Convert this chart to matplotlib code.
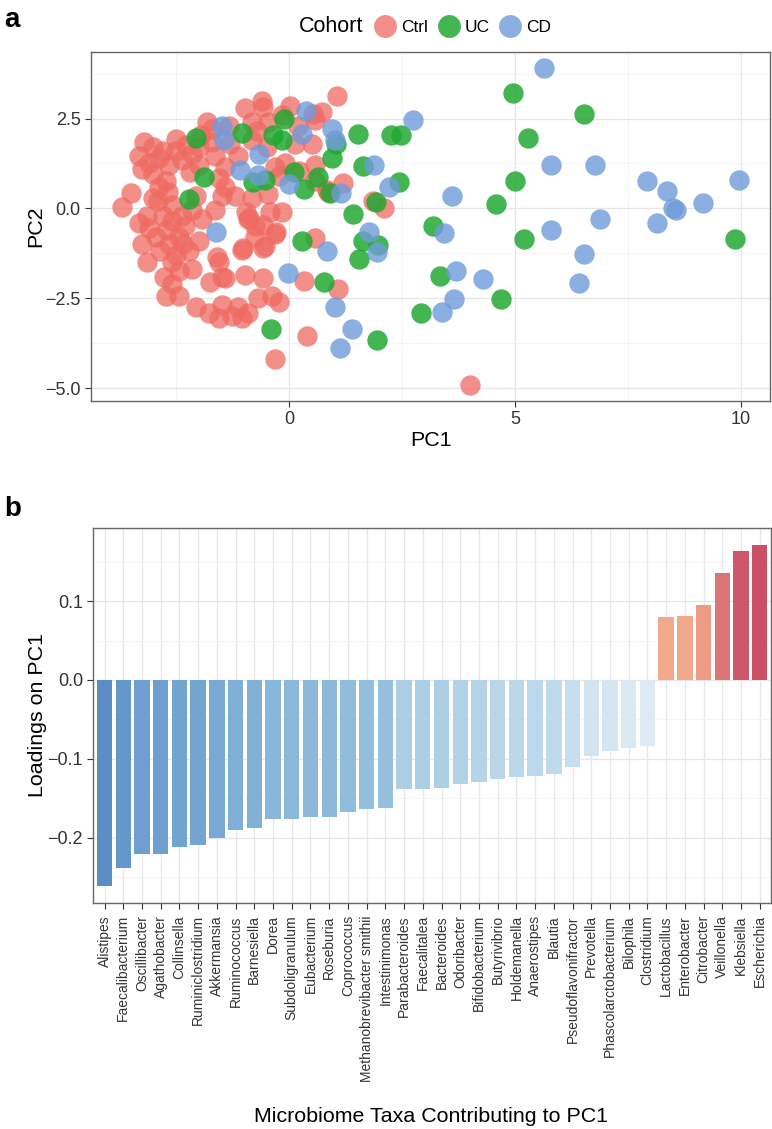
import numpy as np
import matplotlib.pyplot as plt
from matplotlib.colors import LinearSegmentedColormap, Normalize
from matplotlib.lines import Line2D

plt.rcParams['font.family'] = ['Liberation Sans', 'DejaVu Sans']

# --- panel a: PCA scores ---
ctrl_x = [1.05, -0.60, -0.57, -0.97, 0.02, 0.72, 0.54,
          -1.81, -1.34, -0.82, -0.46, 0.57, 0.20,
          -3.21, -2.51, -2.80, -2.29, -1.70, -1.30, -0.82, 0.13, 0.50, -0.49,
          -3.32, -3.10, -3.25, -2.88, -2.66, -2.36, -2.14, -2.00, -1.63, -1.41, -1.12, -0.31, -0.09, 0.21, 0.57,
          -3.02, -2.73, -2.88, -1.56, -1.41, -0.23, 1.20, 0.83, 0.57,
          -3.50, -3.70, -2.69, -1.48, -1.19, -0.82, -0.46, 1.86, 2.11, 0.87,
          -3.32, -3.10, -2.80, -2.58, -2.36, -2.14, -1.92, -1.63, -0.95, -0.90, -0.75, -0.42, -0.16,
          -3.25, -2.95, -2.66, -2.44, -2.22, -2.00, -1.60, -1.04, -0.75, -0.53, -0.31, 0.57,
          -3.14, -2.77, -2.58, -2.14, -2.44, -1.56, -1.41, -0.97, -0.57, 0.32,
          -2.73, -2.44, -2.07, -1.78, -1.48, -1.26, -1.12, -0.90, -0.68, -0.23, -0.38, 1.09, -1.56, -1.04,
          0.39, -0.32, 4.01,
          -2.90, -2.60, -2.70, -2.30, -2.50, -2.20, -2.50, -3.00, -2.00,
          -0.88, -0.57, -0.29, -1.01, -0.57, -1.49, -1.76,
          -3.00, -3.15, -2.85, -2.35, -2.60, -1.95, -1.70, -2.05, -0.70, -0.15]
ctrl_y = [3.14, 3.00, 2.82, 2.78, 2.85, 2.68, 2.62,
          2.40, 2.30, 2.40, 2.40, 2.45, 2.30,
          1.85, 1.94, 1.60, 1.75, 1.85, 1.80, 1.90, 1.80, 1.80, 1.70,
          1.45, 1.25, 1.10, 1.40, 1.20, 1.35, 1.50, 1.20, 1.45, 1.15, 1.45, 1.15, 1.25, 1.05, 1.20,
          0.95, 0.75, 0.60, 0.85, 0.60, 0.90, 0.70, 0.50, 0.75,
          0.42, 0.05, 0.45, 0.35, 0.35, 0.30, 0.40, 0.20, 0.00, 0.45,
          -0.40, -0.55, -0.20, -0.35, -0.20, -0.05, -0.30, -0.05, -0.10, -0.30, -0.50, -0.10, -0.10,
          -1.00, -0.80, -1.00, -0.80, -1.20, -0.90, -1.35, -1.15, -0.80, -1.05, -0.70, -0.83,
          -1.50, -1.90, -1.50, -1.70, -1.75, -1.50, -1.95, -1.85, -1.95, -2.03,
          -2.45, -2.45, -2.75, -2.90, -2.70, -3.00, -2.75, -2.90, -2.50, -2.60, -2.45, -2.24, -3.05, -3.05,
          -3.55, -4.20, -4.92,
          0.20, 0.10, -0.60, -0.50, -1.30, 1.00, 1.60, 1.70, 1.70,
          -0.26, -0.46, -0.65, -1.10, -1.10, -1.92, -2.04,
          0.30, -0.20, -1.20, -1.00, -2.10, 2.05, 2.20, 0.35, 2.15, 2.60]

uc_x = [-2.06, -1.04, -0.11, -0.35, -0.16, 1.04, 0.95, 1.53, 2.26, 2.48,
        1.64, 2.44, -1.89, -2.22, -0.79, -0.54, 0.11, 0.32, 0.65, 0.90,
        1.93, 1.42, 0.28, 1.64, 1.97, 1.54, 0.78, -0.40, 1.95, 2.93,
        4.96, 6.52, 5.28, 5.00, 4.57, 3.19, 5.21, 9.86, 3.33, 4.69]
uc_y = [1.97, 2.10, 2.49, 2.03, 1.89, 1.80, 1.41, 2.08, 2.03, 2.03,
        1.17, 0.74, 0.86, 0.26, 0.74, 0.80, 1.02, 0.53, 0.88, 0.42,
        0.18, -0.16, -0.92, -0.92, -1.02, -1.41, -2.06, -3.35, -3.65, -2.91,
        3.20, 2.63, 1.96, 0.76, 0.13, -0.49, -0.84, -0.84, -1.88, -2.52]

cd_x = [-1.48, -1.45, 0.37, 0.28, 0.95, 1.01, -0.66, -1.08, -0.68, -0.01,
        1.16, 1.87, 2.22, 2.75, -1.61, 1.76, 1.94, 0.84, -0.03, 1.01,
        1.40, 1.12,
        5.65, 5.79, 6.78, 7.91, 8.36, 8.50, 8.56, 9.15, 9.96, 8.14,
        6.87, 5.79, 6.53, 6.42, 3.61, 3.42, 3.70, 4.29, 3.66, 3.39]
cd_y = [2.28, 1.91, 2.70, 2.08, 2.22, 1.89, 1.52, 1.08, 0.92, 0.67,
        0.43, 1.20, 0.60, 2.47, -0.67, -0.67, -1.22, -1.20, -1.80, -2.74,
        -3.37, -3.88,
        3.91, 1.20, 1.20, 0.76, 0.49, 0.00, -0.05, 0.14, 0.80, -0.40,
        -0.30, -0.60, -1.27, -2.08, 0.35, -0.68, -1.75, -1.96, -2.52, -2.88]

cohorts = ['Ctrl', 'UC', 'CD']
cohort_colors = ['#EE6A62', '#22A833', '#6F9BDB']
cohort_alpha = [0.75, 0.85, 0.8]

# --- panel b: PC1 loadings ---
taxa = ['Alistipes', 'Faecalibacterium', 'Oscillibacter', 'Agathobacter', 'Collinsella',
        'Ruminiclostridium', 'Akkermansia', 'Ruminococcus', 'Barnesiella', 'Dorea',
        'Subdoligranulum', 'Eubacterium', 'Roseburia', 'Coprococcus',
        'Methanobrevibacter smithii', 'Intestinimonas', 'Parabacteroides', 'Faecalitalea',
        'Bacteroides', 'Odoribacter', 'Bifidobacterium', 'Butyrivibrio', 'Holdemanella',
        'Anaerostipes', 'Blautia', 'Pseudoflavonifractor', 'Prevotella',
        'Phascolarctobacterium', 'Bilophila', 'Clostridium', 'Lactobacillus',
        'Enterobacter', 'Citrobacter', 'Veillonella', 'Klebsiella', 'Escherichia']
loadings = [-0.261, -0.238, -0.221, -0.221, -0.212, -0.209, -0.201, -0.191, -0.188, -0.177,
            -0.176, -0.174, -0.174, -0.168, -0.164, -0.163, -0.139, -0.138, -0.137, -0.132,
            -0.129, -0.1255, -0.123, -0.122, -0.119, -0.110, -0.096, -0.0905, -0.0867, -0.084,
            0.0798, 0.0815, 0.0946, 0.136, 0.164, 0.1715]


def expand(vals, f=0.05):
    lo, hi = min(vals), max(vals)
    d = (hi - lo) * f
    return lo - d, hi + d


def style_axes(ax):
    for sp in ax.spines.values():
        sp.set_color('#666666')
        sp.set_linewidth(1.0)
    ax.grid(which='major', color='#E6E6E6', linewidth=0.9, zorder=0)
    ax.grid(which='minor', color='#F3F3F3', linewidth=0.6, zorder=0)
    ax.set_axisbelow(True)
    ax.tick_params(which='major', length=4, color='#333333', labelcolor='#333333',
                   labelsize=13, width=0.8)
    ax.tick_params(which='minor', length=0)


fig = plt.figure(figsize=(7.72, 11.29), dpi=100)

# panel a
ax1 = fig.add_axes([91 / 772, 1 - 401 / 1129, 679 / 772, 349 / 1129])
for xs, ys, col, al in zip([ctrl_x, uc_x, cd_x], [ctrl_y, uc_y, cd_y], cohort_colors, cohort_alpha):
    ax1.scatter(xs, ys, s=215, color=col, alpha=al, linewidths=0, zorder=3)
ax1.set_xlim(expand(ctrl_x + uc_x + cd_x))
ax1.set_ylim(expand(ctrl_y + uc_y + cd_y))
ax1.set_xticks([0, 5, 10])
ax1.set_xticks([-2.5, 2.5, 7.5], minor=True)
ax1.set_yticks([-5, -2.5, 0, 2.5])
ax1.set_yticklabels(['\u22125.0', '\u22122.5', '0.0', '2.5'])
ax1.set_yticks([-3.75, -1.25, 1.25, 3.75], minor=True)
style_axes(ax1)
ax1.set_xlabel('PC1', fontsize=15.4, labelpad=2)
ax1.set_ylabel('PC2', fontsize=15.4, labelpad=0)

handles = [Line2D([], [], marker='o', ls='', ms=16.5, markeredgewidth=0,
                  color=c, alpha=a) for c, a in zip(cohort_colors, cohort_alpha)]
fig.legend(handles, cohorts, ncol=3, loc='center left', frameon=False,
           bbox_to_anchor=(375 / 772, 1 - 27 / 1129), fontsize=12.5,
           handlelength=1.2, handletextpad=0.3, columnspacing=0.6,
           borderpad=0, borderaxespad=0)
fig.text(363 / 772, 1 - 27 / 1129, 'Cohort', fontsize=15.5, ha='right', va='center')

# panel b
ax2 = fig.add_axes([93.3 / 772, 1 - 902.7 / 1129, 677.7 / 772, 375 / 1129])
cmap = LinearSegmentedColormap.from_list('loading', [
    (0.00, '#5A8EC5'), (0.14, '#79A9D3'), (0.23, '#95C1DE'),
    (0.32, '#BCD8EA'), (0.41, '#DCEAF3'), (0.60, '#F8F8F8'),
    (0.79, '#F3A98B'), (0.88, '#E3847A'), (1.00, '#CB5067')])
norm = Normalize(min(loadings), max(loadings))
pos = np.arange(len(taxa))
ax2.bar(pos, loadings, width=0.82, color=cmap(norm(np.array(loadings))), zorder=3)
ax2.set_xlim(-0.6, len(taxa) - 0.4)
ax2.set_ylim(expand(loadings + [0]))
ax2.set_xticks(pos)
ax2.set_xticklabels(taxa, rotation=90, fontsize=10)
ax2.set_yticks([-0.2, -0.1, 0.0, 0.1])
ax2.set_yticklabels(['\u22120.2', '\u22120.1', '0.0', '0.1'])
ax2.set_yticks([-0.25, -0.15, -0.05, 0.05, 0.15], minor=True)
style_axes(ax2)
ax2.tick_params(axis='x', labelsize=10, pad=5)
ax2.set_ylabel('Loadings on PC1', fontsize=15.4, labelpad=0)
fig.text(431 / 772, 1 - 1116 / 1129, 'Microbiome Taxa Contributing to PC1',
         fontsize=15.4, ha='center', va='center')

fig.text(4 / 772, 1 - 20 / 1129, 'a', fontsize=20, fontweight='bold', va='center')
fig.text(4 / 772, 1 - 509 / 1129, 'b', fontsize=20, fontweight='bold', va='center')

fig.savefig('out.png', dpi=100)
